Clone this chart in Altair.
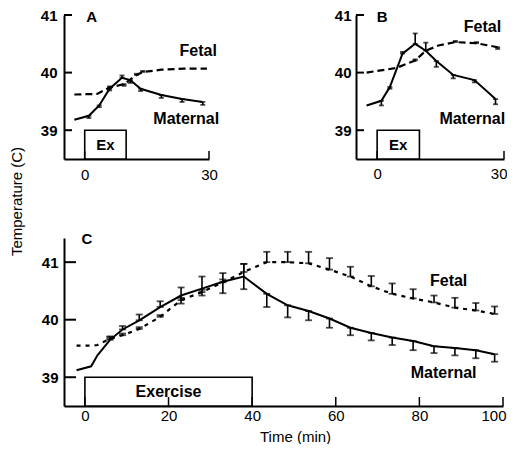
import altair as alt
import pandas as pd

FONT = "Liberation Sans"

# ---------------- Panel A ----------------
a_mat_t = [-2.5, 1, 3.5, 6, 9, 11, 13.5, 18.5, 23.5, 28.5]
a_mat_v = [39.18, 39.25, 39.43, 39.72, 39.91, 39.87, 39.72, 39.61, 39.54, 39.49]
a_mat_up = [0, 0, 0, 0, 0.04, 0, 0, 0, 0, 0]
a_mat_dn = [0, 0.04, 0.03, 0.03, 0, 0.05, 0.04, 0.05, 0.05, 0.05]
a_fet_t = [-2.5, 3, 6, 9.5, 12.5, 14, 18.5, 24, 29.5]
a_fet_v = [39.62, 39.63, 39.74, 39.80, 39.96, 40.01, 40.05, 40.07, 40.07]
a_fet_up = [0, 0, 0.02, 0, 0.02, 0.02, 0, 0, 0]
a_fet_dn = [0, 0, 0, 0.03, 0, 0, 0, 0, 0]

# ---------------- Panel B ----------------
b_mat_t = [-2.5, 1, 3, 6, 9, 11.5, 14, 18, 23, 28]
b_mat_v = [39.43, 39.51, 39.75, 40.33, 40.50, 40.38, 40.20, 39.96, 39.87, 39.54]
b_mat_up = [0, 0, 0, 0.03, 0.18, 0.14, 0, 0, 0, 0]
b_mat_dn = [0, 0.08, 0.03, 0, 0, 0, 0.1, 0.06, 0.04, 0.09]
b_fet_t = [-2.5, 4.5, 9, 11.5, 14.5, 18.5, 23.5, 28.5]
b_fet_v = [40.00, 40.08, 40.21, 40.38, 40.47, 40.53, 40.51, 40.44]
b_fet_up = [0, 0, 0.02, 0, 0, 0.02, 0.02, 0]
b_fet_dn = [0, 0, 0, 0, 0, 0, 0, 0.03]

# ---------------- Panel C ----------------
c_t = [-2, 1.5, 3, 6, 9, 13, 18, 23, 28, 33, 38, 43.5, 48.5, 53.5, 58.5,
       63.5, 68.5, 73.5, 78.5, 83.5, 88.5, 93.5, 98]
c_mat_v = [39.12, 39.19, 39.38, 39.65, 39.83, 39.99, 40.22, 40.42, 40.54, 40.66,
           40.75, 40.45, 40.25, 40.15, 40.02, 39.86, 39.77, 39.69, 39.63, 39.54,
           39.51, 39.47, 39.40]
c_mat_up = [0, 0, 0, 0.06, 0.06, 0.1, 0.1, 0.14, 0.21, 0.15, 0.22, 0, 0, 0, 0,
            0, 0, 0, 0, 0, 0, 0, 0]
c_mat_dn = [0, 0, 0, 0, 0, 0, 0, 0.14, 0.12, 0.2, 0.22, 0.23, 0.21, 0.16, 0.16,
            0.13, 0.13, 0.13, 0.16, 0.12, 0.13, 0.14, 0.13]
c_fet_v = [39.55, 39.55, 39.56, 39.67, 39.73, 39.84, 40.05, 40.34, 40.48, 40.65,
           40.83, 41.00, 41.00, 40.98, 40.87, 40.75, 40.58, 40.45, 40.37, 40.30,
           40.21, 40.16, 40.10]
c_fet_up = [0, 0, 0, 0.03, 0.03, 0.03, 0.03, 0.04, 0.04, 0.05, 0.14, 0.18, 0.18,
            0.2, 0.2, 0.17, 0.18, 0.18, 0.16, 0.12, 0.17, 0.13, 0.13]
c_fet_dn = [0] * 23

# axis tick values
ab_xticks = [0, 30]
c_xticks = [0, 20, 40, 60, 80, 100]
yticks = [39, 40, 41]


def err_frames(t, v, up, dn):
    rows, caps = [], []
    for ti, vi, u, d in zip(t, v, up, dn):
        if u == 0 and d == 0:
            continue
        lo, hi = vi - d, vi + u
        rows.append({"t": ti, "lo": lo, "hi": hi})
        caps.append({"t": ti, "y": lo})
        caps.append({"t": ti, "y": hi})
    return pd.DataFrame(rows), pd.DataFrame(caps)


def panel(mt, mv, mup, mdn, ft, fv, fup, fdn, xdom, ydom, w, h, xticks,
          box, box_label, box_fs, texts, letter, dash, cap, ylab_pad, xlab_pad,
          tick_y_px, tick_x_px, flush, xtitle=None, ytitle=None):
    xs = alt.Scale(domain=xdom, nice=False, zero=False)
    ys = alt.Scale(domain=ydom, nice=False, zero=False)
    xkw = dict(values=xticks, ticks=False, tickSize=0, grid=False,
               domainColor="black", domainWidth=2, labelFont=FONT,
               labelFontSize=15, labelColor="black", labelPadding=xlab_pad,
               labelFlush=flush, title=None)
    if flush:
        xkw.update(labelFlushOffset=3)
    ykw = dict(values=yticks, ticks=False, tickSize=0, grid=False,
               domainColor="black", domainWidth=2, labelFont=FONT,
               labelFontSize=15, labelFontWeight="bold", labelColor="black",
               labelPadding=ylab_pad, labelFlush=False, title=None)
    if xtitle:
        xkw.update(title=xtitle["text"], titleFont=FONT, titleFontSize=15,
                   titleFontWeight="normal", titleColor="black",
                   titleX=xtitle["x"], titleY=xtitle["y"], titleBaseline="top")
    if ytitle:
        ykw.update(title=ytitle["text"], titleFont=FONT, titleFontSize=15,
                   titleFontWeight="normal", titleColor="black",
                   titleX=ytitle["x"], titleY=ytitle["y"])
    xaxis = alt.Axis(**xkw)
    yaxis = alt.Axis(**ykw)

    def ex(f):
        return alt.X(f, type="quantitative", scale=xs, axis=xaxis)

    def ey(f):
        return alt.Y(f, type="quantitative", scale=ys, axis=yaxis)

    mat = pd.DataFrame({"t": mt, "v": mv})
    fet = pd.DataFrame({"t": ft, "v": fv})
    me, mc = err_frames(mt, mv, mup, mdn)
    fe, fc = err_frames(ft, fv, fup, fdn)
    errs = pd.concat([me, fe], ignore_index=True)
    caps = pd.concat([mc, fc], ignore_index=True)

    bx = pd.DataFrame({"x1": [box[0]], "x2": [box[1]], "y1": [box[2]],
                       "y2": [box[3]], "label": [box_label],
                       "cx": [(box[0] + box[1]) / 2],
                       "cy": [(box[2] + box[3]) / 2]})

    xr = xdom[1] - xdom[0]
    yr = ydom[1] - ydom[0]
    yt = pd.DataFrame({"y": yticks, "x1": [xdom[0]] * len(yticks),
                       "x2": [xdom[0] + tick_y_px / w * xr] * len(yticks)})
    xt = pd.DataFrame({"x": xticks, "y1": [ydom[0]] * len(xticks),
                       "y2": [ydom[0] + tick_x_px / h * yr] * len(xticks)})

    txt = pd.DataFrame(texts)
    let = pd.DataFrame([letter])

    layers = [
        alt.Chart(bx).mark_rect(fill="white", stroke="black", strokeWidth=1.6)
        .encode(x=ex("x1"), x2="x2", y=ey("y1"), y2="y2"),
        alt.Chart(bx).mark_text(font=FONT, fontSize=box_fs, fontWeight="bold",
                                color="black", baseline="middle")
        .encode(x=ex("cx"), y=ey("cy"), text="label:N"),
        alt.Chart(yt).mark_rule(color="black", strokeWidth=2)
        .encode(x=ex("x1"), x2="x2", y=ey("y")),
        alt.Chart(xt).mark_rule(color="black", strokeWidth=1.5)
        .encode(x=ex("x"), y=ey("y1"), y2="y2"),
        alt.Chart(errs).mark_rule(color="black", strokeWidth=1.6)
        .encode(x=ex("t"), y=ey("lo"), y2="hi"),
        alt.Chart(caps).mark_tick(color="black", orient="horizontal",
                                  size=cap, thickness=1.8)
        .encode(x=ex("t"), y=ey("y")),
        alt.Chart(mat).mark_line(color="black", strokeWidth=2)
        .encode(x=ex("t"), y=ey("v")),
        alt.Chart(fet).mark_line(color="black", strokeWidth=2.2, strokeDash=dash)
        .encode(x=ex("t"), y=ey("v")),
        alt.Chart(txt).mark_text(font=FONT, fontSize=16, fontWeight="bold",
                                 color="black", baseline="middle")
        .encode(x=ex("x"), y=ey("y"), text="label:N"),
        alt.Chart(let).mark_text(font=FONT, fontSize=15, fontWeight="bold",
                                 color="black", baseline="middle")
        .encode(x=ex("x"), y=ey("y"), text="label:N"),
    ]
    return alt.layer(*layers).properties(width=w, height=h)


A = panel(a_mat_t, a_mat_v, a_mat_up, a_mat_dn, a_fet_t, a_fet_v, a_fet_up, a_fet_dn,
          [-5, 30], [38.5, 41], 145, 144, ab_xticks, (0, 10, 38.5, 39), "Ex", 15,
          [{"label": "Fetal", "x": 27.4, "y": 40.37},
           {"label": "Maternal", "x": 24.5, "y": 39.19}],
          {"label": "A", "x": 1.7, "y": 40.97}, [7, 4], 5, 7, 8, 8, 8, False)

B = panel(b_mat_t, b_mat_v, b_mat_up, b_mat_dn, b_fet_t, b_fet_v, b_fet_up, b_fet_dn,
          [-5, 30], [38.5, 41], 148, 144, ab_xticks, (0, 10, 38.5, 39), "Ex", 15,
          [{"label": "Fetal", "x": 24.9, "y": 40.8},
           {"label": "Maternal", "x": 22.5, "y": 39.2}],
          {"label": "B", "x": 1.2, "y": 40.97}, [7, 4], 5, 5, 7, 8, 8, True)

C = panel(c_t, c_mat_v, c_mat_up, c_mat_dn, c_t, c_fet_v, c_fet_up, c_fet_dn,
          [-5, 100], [38.5, 41.42], 439, 168, c_xticks, (0, 40, 38.5, 39),
          "Exercise", 16,
          [{"label": "Fetal", "x": 87, "y": 40.68},
           {"label": "Maternal", "x": 85.8, "y": 39.08}],
          {"label": "C", "x": 0.5, "y": 41.4}, [4, 5], 7, 6, 2, 12, 9, True,
          xtitle={"text": "Time (min)", "x": 231, "y": 23},
          ytitle={"text": "Temperature (C)", "x": -40, "y": -37})

top = alt.hconcat(A, B, spacing=147, bounds="flush")
chart = (
    alt.vconcat(top, C, spacing=223, bounds="flush")
    .properties(padding={"left": 0, "top": 0, "right": 0, "bottom": 0})
    .configure_view(stroke=None)
)

chart.save("out.html", embed_options={"renderer": "svg", "actions": False})
